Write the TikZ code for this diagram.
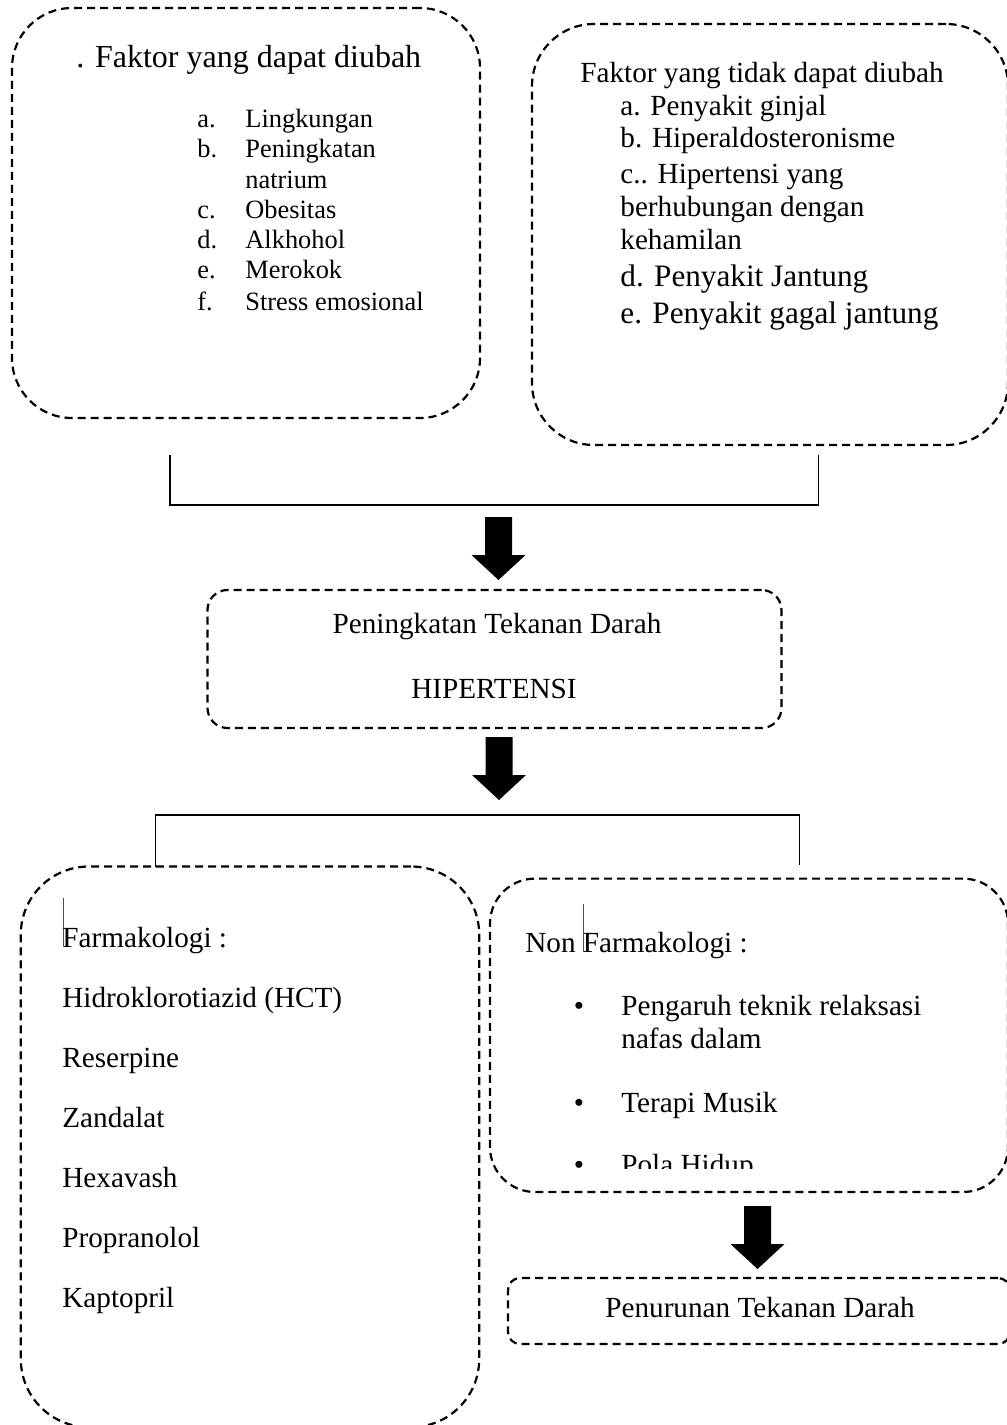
\documentclass[tikz,border=0pt]{standalone}
\usepackage{fontspec}
\setmainfont{Liberation Serif}
\begin{document}
\begin{tikzpicture}[x=0.5pt,y=-0.5pt,
  dbox/.style={draw, line width=1.1pt, dash pattern=on 4pt off 2.5pt, inner sep=0pt},
  brk/.style={line width=0.7pt},
  cursorline/.style={line width=0.5pt, draw=black!70},
  txt/.style={inner sep=0pt, anchor=base west, font=\fontsize{14.6}{17}\selectfont},
  txtc/.style={inner sep=0pt, anchor=base, font=\fontsize{14.6}{17}\selectfont},
  ltitle/.style={txt, font=\fontsize{16}{19}\selectfont},
  lsmall/.style={txt, font=\fontsize{13.2}{15}\selectfont},
  rbig/.style={txt, font=\fontsize{15.6}{18}\selectfont},
  bul/.style={inner sep=0pt, anchor=base, font=\fontsize{14.6}{17}\selectfont},
  barrow/.pic={\fill (-13.5,0) -- ++(27,0) -- ++(0,38) -- ++(13.5,0) -- ++(-27,25) -- ++(-27,-25) -- ++(13.5,0) -- cycle;}
]
\useasboundingbox (0,0) rectangle (1007,1425);

% ---------- boxes ----------
\node[dbox, minimum width=234pt, minimum height=205pt, rounded corners=30pt] (tl) at (246,213) {};
\node[dbox, minimum width=238pt, minimum height=210.5pt, rounded corners=31pt] (tr) at (770,234.5) {};
\node[dbox, minimum width=287pt, minimum height=69pt, rounded corners=10pt] (mid) at (494.5,659) {};
\node[dbox, minimum width=229.2pt, minimum height=280.3pt, rounded corners=34pt] (bl) at (250,1146.8) {};
\node[dbox, minimum width=259pt, minimum height=156.7pt, rounded corners=22.5pt] (br) at (749,1035.3) {};
\node[dbox, minimum width=251pt, minimum height=33pt, rounded corners=6pt] (pen) at (759,1311) {};

% ---------- top-left text ----------
\node[ltitle] (tlt) at (76,67) {. Faktor yang dapat diubah};
\node[lsmall] (la) at (197,127) {a.};
\node[lsmall] (lat) at (245,127) {Lingkungan};
\node[lsmall] (lb) at (197,157) {b.};
\node[lsmall] (lbt) at (245,157) {Peningkatan};
\node[lsmall] (lbt2) at (245,188) {natrium};
\node[lsmall] (lc) at (197,218) {c.};
\node[lsmall] (lct) at (245,218) {Obesitas};
\node[lsmall] (ld) at (197,248) {d.};
\node[lsmall] (ldt) at (245,248) {Alkhohol};
\node[lsmall] (le) at (197,278) {e.};
\node[lsmall] (let) at (245,278) {Merokok};
\node[lsmall] (lf) at (197,310) {f.};
\node[lsmall] (lft) at (245,310) {Stress emosional};

% ---------- top-right text ----------
\node[txt] (trt) at (580,82) {Faktor yang tidak dapat diubah};
\node[txt] (ra) at (620,115) {a. Penyakit ginjal};
\node[txt] (rb) at (620,147) {b. Hiperaldosteronisme};
\node[txt] (rc) at (620,183) {c.. Hipertensi yang};
\node[txt] (rc2) at (620,216) {berhubungan dengan};
\node[txt] (rc3) at (620,249) {kehamilan};
\node[rbig] (rd) at (620,286) {d. Penyakit Jantung};
\node[rbig] (re) at (620,323) {e. Penyakit gagal jantung};

% ---------- bracket 1 and arrow 1 ----------
\coordinate (b1a) at (170,455);
\coordinate (b1b) at (170,505);
\coordinate (b1c) at (818.6,505);
\coordinate (b1d) at (818.6,455);
\draw[brk] (b1a) -- (b1b) -- (b1c) -- (b1d);
\pic (ar1) at (498.5,517) {barrow};

% ---------- middle box text ----------
\node[txtc] (m1) at (497,633) {Peningkatan Tekanan Darah};
\node[txtc] (m2) at (494,698) {HIPERTENSI};

% ---------- arrow 2 and bracket 2 ----------
\pic (ar2) at (499,737) {barrow};
\coordinate (b2a) at (155.4,866.5);
\coordinate (b2b) at (155.4,815);
\coordinate (b2c) at (799.6,815);
\coordinate (b2d) at (799.6,865);
\draw[brk] (b2a) -- (b2b) -- (b2c) -- (b2d);

% ---------- bottom-left text ----------
\coordinate (cur1a) at (63,898);
\coordinate (cur1b) at (63,946);
\draw[cursorline] (cur1a) -- (cur1b);
\node[txt] (f0) at (62,947) {Farmakologi :};
\node[txt] (f1) at (62,1007) {Hidroklorotiazid (HCT)};
\node[txt] (f2) at (62,1067) {Reserpine};
\node[txt] (f3) at (62,1127) {Zandalat};
\node[txt] (f4) at (62,1187) {Hexavash};
\node[txt] (f5) at (62,1247) {Propranolol};
\node[txt] (f6) at (62,1307) {Kaptopril};

% ---------- bottom-right text ----------
\node[txt] (n0) at (525,952) {Non Farmakologi :};
\coordinate (cur2a) at (583,904);
\coordinate (cur2b) at (583,952);
\draw[cursorline] (cur2a) -- (cur2b);
\node[bul] (nb1) at (579,1015) {\textbullet};
\node[txt] (n1) at (621,1015) {Pengaruh teknik relaksasi};
\node[txt] (n1b) at (621,1048) {nafas dalam};
\node[bul] (nb2) at (579,1112) {\textbullet};
\node[txt] (n2) at (621,1112) {Terapi Musik};
\begin{scope}
  \clip (480,1100) rectangle (1007,1168);
  \node[bul] (nb3) at (579,1174) {\textbullet};
  \node[txt] (n3) at (621,1174) {Pola Hidup};
\end{scope}

% ---------- arrow 3 and final box ----------
\pic (ar3) at (757.5,1206) {barrow};
\node[txtc] (pt) at (760,1317) {Penurunan Tekanan Darah};
\end{tikzpicture}
\end{document}
